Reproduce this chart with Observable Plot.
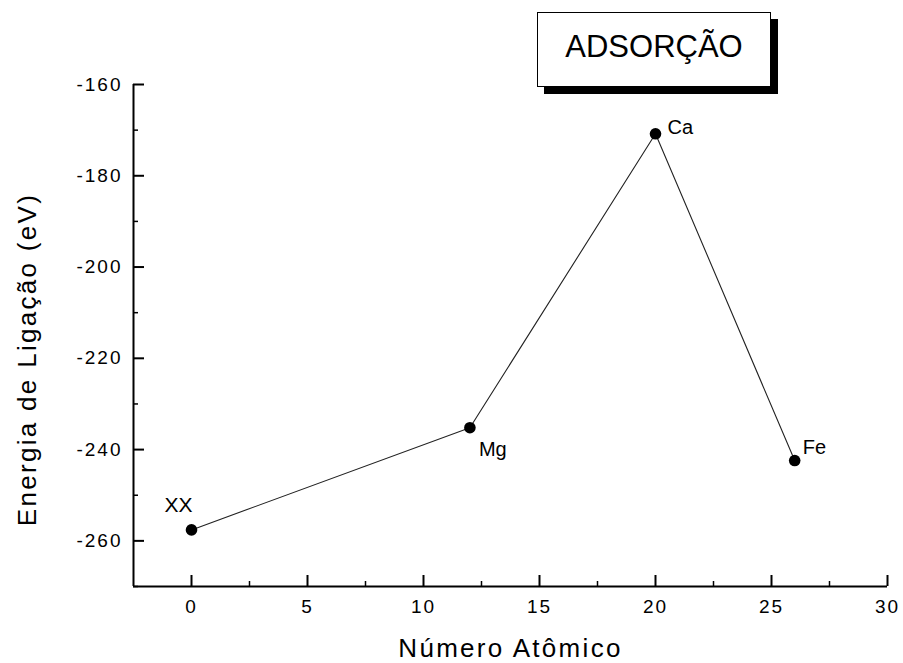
<!DOCTYPE html>
<html>
<head>
<meta charset="utf-8">
<script src="https://cdn.jsdelivr.net/npm/d3@7"></script>
<script src="https://cdn.jsdelivr.net/npm/@observablehq/plot@0.6"></script>
<style>
  html, body { margin: 0; padding: 0; background: #fff; }
  #wrap { position: relative; width: 903px; height: 663px; font-family: "Liberation Sans", Arial, sans-serif; }
  #box {
    position: absolute; left: 537px; top: 12px; width: 234px; height: 75px; box-sizing: border-box;
    border: 1.5px solid #000; background: #fff; box-shadow: 7px 7px 0 #000;
    display: flex; align-items: center; justify-content: center;
    font-size: 31px; color: #000; padding-bottom: 6px;
  }
</style>
</head>
<body>
<div id="wrap"><div id="box"></div></div>
<script>
// ---- data ----
const elements = ["XX", "Mg", "Ca", "Fe"];
const atomicNumber = [0, 12, 20, 26];
const bindingEnergy = [-257.6, -235.2, -170.8, -242.4];
const xMajorTicks = [0, 5, 10, 15, 20, 25, 30];
const xMinorTicks = [2.5, 7.5, 12.5, 17.5, 22.5, 27.5];
const yMajorTicks = [-260, -240, -220, -200, -180, -160];
const yMinorTicks = [-270, -250, -230, -210, -190, -170];
const xDomain = [-2.5, 30];
const yDomain = [-270, -160];
const xTitle = "Número Atômico";
const yTitle = "Energia de Ligação (eV)";
const boxTitle = "ADSORÇÃO";

// ---- layout ----
const W = 903, H = 663;
const mL = 133, mR = 16, mT = 84, mB = 77;
const innerW = W - mL - mR, innerH = H - mT - mB;
const majorLen = 11, minorLen = 5;

const data = elements.map((e, i) => ({el: e, x: atomicNumber[i], y: bindingEnergy[i]}));

const labelStyle = {
  XX: {dx: -13, dy: -25, anchor: "middle", size: 21},
  Mg: {dx: 9, dy: 22, anchor: "start", size: 20},
  Ca: {dx: 12, dy: -6, anchor: "start", size: 20},
  Fe: {dx: 8, dy: -13, anchor: "start", size: 20}
};

const labelMarks = elements.map(e => Plot.text(data.filter(d => d.el === e), {
  x: "x", y: "y", text: "el",
  dx: labelStyle[e].dx, dy: labelStyle[e].dy,
  textAnchor: labelStyle[e].anchor, fontSize: labelStyle[e].size, fill: "#000"
}));

const chart = Plot.plot({
  width: W, height: H,
  marginLeft: mL, marginRight: mR, marginTop: mT, marginBottom: mB,
  style: {fontFamily: "'Liberation Sans', Arial, sans-serif", color: "#000", background: "transparent"},
  x: {domain: xDomain},
  y: {domain: yDomain},
  marks: [
    Plot.ruleX([xDomain[0]], {stroke: "#000", strokeWidth: 2}),
    Plot.ruleY([yDomain[0]], {stroke: "#000", strokeWidth: 2}),
    Plot.ruleX(xMajorTicks, {x: d => d, insetTop: innerH - majorLen, stroke: "#000", strokeWidth: 2}),
    Plot.ruleX(xMinorTicks, {x: d => d, insetTop: innerH - minorLen, stroke: "#000", strokeWidth: 1.5}),
    Plot.ruleY(yMajorTicks, {y: d => d, insetRight: innerW - majorLen, stroke: "#000", strokeWidth: 2}),
    Plot.ruleY(yMinorTicks, {y: d => d, insetRight: innerW - minorLen, stroke: "#000", strokeWidth: 1.5}),
    Plot.axisX({ticks: xMajorTicks, tickSize: 0, tickPadding: 13, fontSize: 19, tickFormat: d => String(d), label: null}),
    Plot.axisY({ticks: yMajorTicks, tickSize: 0, tickPadding: 11, fontSize: 19, tickFormat: d => String(d), label: null}),
    Plot.line(data, {x: "x", y: "y", stroke: "#222", strokeWidth: 1.1}),
    Plot.dot(data, {x: "x", y: "y", r: 5.8, fill: "#000", stroke: null}),
    ...labelMarks,
    Plot.text([xTitle], {text: d => d, frameAnchor: "bottom", textAnchor: "middle", lineAnchor: "middle", dx: 0, dy: 62, fontSize: 26, fill: "#000"}),
    Plot.text([yTitle], {text: d => d, frameAnchor: "left", textAnchor: "middle", lineAnchor: "middle", rotate: -90, dx: -106, dy: 24, fontSize: 26, fill: "#000"})
  ]
});
chart.style.position = "absolute";
chart.style.left = "0px";
chart.style.top = "0px";
const wrap = document.getElementById("wrap");
wrap.insertBefore(chart, wrap.firstChild);
document.getElementById("box").textContent = boxTitle;

// letter spacing to mimic the wide typeface of the original
const tickStrings = new Set([...xMajorTicks, ...yMajorTicks].map(String));
d3.select(chart).selectAll("text").each(function() {
  const t = this.textContent;
  if (t === xTitle || t === yTitle) this.style.letterSpacing = "2.3px";
  else if (tickStrings.has(t)) this.style.letterSpacing = "2px";
});
</script>
</body>
</html>
